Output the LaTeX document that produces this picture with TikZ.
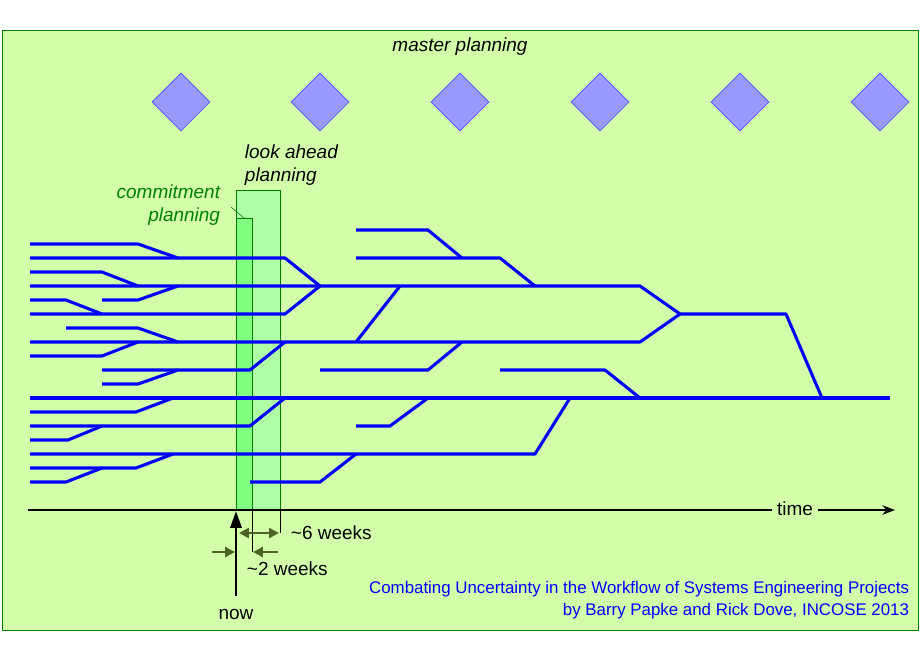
\documentclass[tikz,border=0pt]{standalone}
\usepackage{fontspec}
\setmainfont{Liberation Sans}
\usetikzlibrary{arrows.meta,shapes.geometric}
\definecolor{bgreen}{HTML}{D4FFAA}
\definecolor{dgreen}{HTML}{008000}
\definecolor{olive}{HTML}{4F6228}
\newcommand{\bigtxt}{\fontsize{13.5}{16}\selectfont}
\tikzset{
  flow/.style={blue, line width=2.2pt, line join=round},
  milestone/.style={diamond, draw=blue!70, fill=blue!40, minimum size=1.45cm, inner sep=0pt},
  dim/.style={olive, line width=1.8pt, -{Triangle[length=7pt,width=7pt]}}
}
\begin{document}
\begin{tikzpicture}[x=0.025cm, y=-0.025cm]
  \useasboundingbox (0,0) rectangle (920,660);
  \draw[dgreen, fill=bgreen] (2,30) rectangle (918,630);
  \node[font=\itshape\bigtxt] (master) at (460,47) {master planning};

  % meilensteine
  \foreach \i/\x in {1/181,2/320,3/460,4/600,5/740,6/880}
    \node[milestone] (m\i) at (\x,102) {};

  % planungsfenster
  \draw[dgreen, fill=green!35!white, fill opacity=0.8] (236,190) rectangle (280,510);
  \draw[dgreen, fill=green!50] (236,218) rectangle (252,510);
  \node[font=\itshape\bigtxt, align=left, anchor=west] (ahead) at (240,165) {look ahead\\planning};
  \node[font=\itshape\bigtxt, text=dgreen, align=right, anchor=east] (commit) at (225,205) {commitment\\planning};
  \draw[dgreen] (231,207) -- (244,218);

  % arbeitsstraenge
  \foreach \p in {
    {(30,244)--(138,244)--(178,258)},
    {(30,258)--(285,258)--(320,286)},
    {(30,272)--(102,272)--(138,286)},
    {(30,286)--(640,286)--(680,314)--(786,314)--(822,398)},
    {(102,300)--(138,300)--(178,286)},
    {(30,300)--(66,300)--(102,314)},
    {(30,314)--(285,314)--(320,286)},
    {(66,328)--(138,328)--(178,342)},
    {(30,342)--(640,342)--(680,314)},
    {(30,356)--(102,356)--(138,342)},
    {(102,370)--(250,370)--(285,342)},
    {(102,384)--(138,384)--(178,370)},
    {(30,398)--(890,398)},
    {(30,412)--(136,412)--(173,398)},
    {(30,426)--(250,426)--(285,398)},
    {(30,440)--(68,440)--(102,426)},
    {(30,454)--(535,454)--(570,398)},
    {(30,468)--(136,468)--(173,454)},
    {(30,482)--(66,482)--(102,468)},
    {(250,482)--(320,482)--(356,454)},
    {(356,230)--(428,230)--(462,258)},
    {(356,258)--(500,258)--(535,286)},
    {(356,342)--(400,286)},
    {(320,370)--(428,370)--(462,342)},
    {(500,370)--(605,370)--(640,398)},
    {(356,426)--(390,426)--(428,398)}}
    \draw[flow] \p;

  % zeitachse
  \coordinate (t0) at (28,510);
  \coordinate (t1) at (895,510);
  \draw[line width=1.2pt, -{Stealth[length=9pt]}] (t0) -- (t1);
  \node[font=\bigtxt, fill=bgreen] (time) at (795,509) {time};

  % jetzt und abstaende
  \coordinate (now0) at (236,596);
  \coordinate (now1) at (236,511);
  \draw[line width=1.8pt, -{Triangle[length=12pt,width=8pt]}] (now0) -- (now1);
  \node[font=\bigtxt] (now) at (236,614) {now};
  \draw (252,510) -- (252,552);
  \draw (280,510) -- (280,533);
  \draw[olive, line width=1.8pt, {Triangle[length=7pt,width=7pt]}-{Triangle[length=7pt,width=7pt]}] (239,533) -- (279,533);
  \draw[dim] (212,552) -- (235,552);
  \draw[dim] (278,552) -- (253,552);
  \node[font=\bigtxt, anchor=west] (six) at (286,533) {\textasciitilde6 weeks};
  \node[font=\bigtxt, anchor=west] (two) at (242,569) {\textasciitilde2 weeks};

  % quelle
  \node[text=blue, anchor=east, align=right, font=\fontsize{12}{14.5}\selectfont] (src) at (914,600)
    {Combating Uncertainty in the Workflow of Systems Engineering Projects\\[1pt]
     by Barry Papke and Rick Dove, INCOSE 2013};
\end{tikzpicture}
\end{document}
